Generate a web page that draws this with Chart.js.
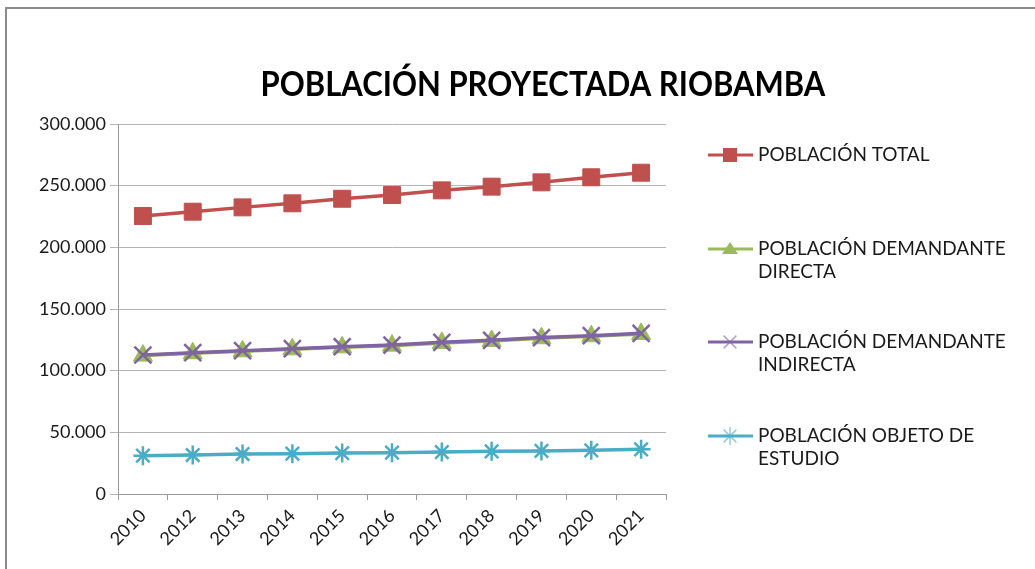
<!DOCTYPE html>
<html>
<head>
<meta charset="utf-8">
<script src="https://cdn.jsdelivr.net/npm/chart.js@4"></script>
<style>
  html, body { margin: 0; padding: 0; background: #fff; }
  #wrap { width: 1035px; height: 569px; position: relative; }
</style>
</head>
<body>
<div id="wrap"><canvas id="popChart" width="1035" height="569"></canvas></div>
<script>
// Years on the x axis
const years = ['2010', '2012', '2013', '2014', '2015', '2016', '2017', '2018', '2019', '2020', '2021'];

// Series values
const poblacionTotal = [225400, 228900, 232400, 235700, 239400, 242400, 246200, 249200, 252700, 256800, 260500];
const demandanteDirecta = [112200, 114100, 115700, 117300, 118900, 120300, 122500, 124100, 126300, 127900, 129800];
const demandanteIndirecta = [112700, 114600, 116200, 117800, 119400, 120800, 123000, 124600, 126800, 128400, 130300];
const objetoEstudio = [31100, 31600, 32400, 32700, 33200, 33500, 34000, 34600, 34900, 35400, 36200];

const seriesNames = [
    ['POBLACIÓN TOTAL'],
    ['POBLACIÓN DEMANDANTE', 'DIRECTA'],
    ['POBLACIÓN DEMANDANTE', 'INDIRECTA'],
    ['POBLACIÓN OBJETO DE', 'ESTUDIO']
];

const FONT = 'Lato, "Open Sans", sans-serif';

function formatThousands(v) {
    return String(v).replace(/\B(?=(\d{3})+(?!\d))/g, '.');
}

// Frame, title and legend drawn around the plot
const decorPlugin = {
    id: 'decor',
    beforeDraw(chart) {
        const ctx = chart.ctx;
        ctx.save();
        ctx.fillStyle = '#fff';
        ctx.fillRect(0, 0, chart.width, chart.height);
        ctx.strokeStyle = '#8a8a8a';
        ctx.lineWidth = 2;
        ctx.strokeRect(6, 8, 1200, 700);
        ctx.restore();
    },
    afterDraw(chart) {
        const ctx = chart.ctx;
        ctx.save();
        ctx.fillStyle = '#000';
        ctx.font = 'bold 31px ' + FONT;
        ctx.textAlign = 'center';
        ctx.textBaseline = 'middle';
        ctx.translate(543, 85);
        ctx.scale(1, 1.12);
        ctx.fillText('POBLACIÓN PROYECTADA RIOBAMBA', 0, 0);
        ctx.restore();

        ctx.save();
        const rows = [155, 249, 342, 436];
        chart.data.datasets.forEach((ds, i) => {
            const y = rows[i];
            ctx.strokeStyle = ds.borderColor;
            ctx.lineWidth = 3;
            ctx.beginPath();
            ctx.moveTo(708, y);
            ctx.lineTo(753, y);
            ctx.stroke();
            ctx.fillStyle = ds.pointBackgroundColor;
            ctx.strokeStyle = ds.pointBorderColor;
            if (ds.pointStyle === 'rect') {
                ctx.fillRect(723, y - 7, 14, 14);
            } else if (ds.pointStyle === 'triangle') {
                ctx.beginPath();
                ctx.moveTo(730, y - 7);
                ctx.lineTo(738, y + 5);
                ctx.lineTo(722, y + 5);
                ctx.closePath();
                ctx.fill();
            } else {
                ctx.globalAlpha = 0.6;
                ctx.lineWidth = 1.5;
                Chart.helpers.drawPoint(ctx, { pointStyle: ds.pointStyle, radius: 9, borderWidth: 1.5 }, 730, y);
                ctx.globalAlpha = 1;
            }
            ctx.fillStyle = '#1a1a1a';
            ctx.font = '19px ' + FONT;
            ctx.textAlign = 'left';
            ctx.textBaseline = 'middle';
            seriesNames[i].forEach((line, k) => {
                ctx.fillText(line, 758, y + k * 23);
            });
        });
        ctx.restore();
    }
};

function lineSeries(label, data, color, style, radius, order) {
    return {
        label: label,
        data: data,
        borderColor: color,
        backgroundColor: color,
        borderWidth: 3.5,
        pointStyle: style,
        pointRadius: radius,
        pointBorderWidth: style === 'crossRot' || style === 'star' ? 2.5 : 1,
        pointBackgroundColor: color,
        pointBorderColor: color,
        tension: 0,
        order: order
    };
}

new Chart(document.getElementById('popChart'), {
    type: 'line',
    data: {
        labels: years,
        datasets: [
            lineSeries(seriesNames[0].join(' '), poblacionTotal, '#C0504D', 'rect', 12, 4),
            lineSeries(seriesNames[1].join(' '), demandanteDirecta, '#9BBB59', 'triangle', 11, 3),
            lineSeries(seriesNames[2].join(' '), demandanteIndirecta, '#8064A2', 'crossRot', 12, 2),
            lineSeries(seriesNames[3].join(' '), objetoEstudio, '#4BACC6', 'star', 9.5, 1)
        ]
    },
    options: {
        responsive: false,
        animation: false,
        layout: {
            padding: { left: 0, top: 124, right: 369, bottom: 0 }
        },
        plugins: {
            legend: { display: false },
            title: { display: false },
            tooltip: { enabled: false }
        },
        scales: {
            x: {
                offset: true,
                grid: {
                    offset: true,
                    drawOnChartArea: false,
                    drawTicks: true,
                    tickLength: 6,
                    color: '#9a9a9a'
                },
                border: { color: '#9a9a9a', width: 1 },
                ticks: {
                    color: '#1a1a1a',
                    font: { family: FONT, size: 18 },
                    minRotation: 45,
                    maxRotation: 45,
                    padding: 5
                },
                afterFit(scale) { scale.height = 75; }
            },
            y: {
                min: 0,
                max: 300000,
                grid: {
                    color: '#b4b4b4',
                    tickLength: 8
                },
                border: { color: '#9a9a9a', width: 1 },
                ticks: {
                    stepSize: 50000,
                    color: '#1a1a1a',
                    font: { family: FONT, size: 18 },
                    padding: 4,
                    callback: v => formatThousands(v)
                },
                afterFit(scale) { scale.width = 118; }
            }
        }
    },
    plugins: [decorPlugin]
});
</script>
</body>
</html>
